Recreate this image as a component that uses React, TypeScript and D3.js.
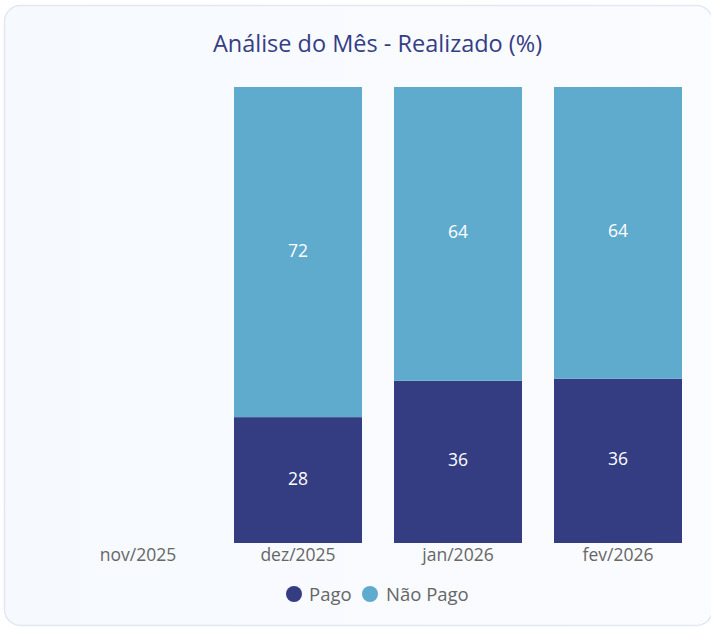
import React from "react";
import * as d3 from "d3";

const categories = ["nov/2025", "dez/2025", "jan/2026", "fev/2026"];
const pago: (number | null)[] = [null, 27.6, 35.6, 36.0];
const naoPago: (number | null)[] = [null, 72.4, 64.4, 64.0];
const seriesNames = ["Pago", "Não Pago"];
const colors = ["#343d82", "#5eabcd"];
const title = "Análise do Mês - Realizado (%)";

const W = 711;
const H = 628;
const FONT = "'Open Sans', 'Noto Sans', sans-serif";

export default function App() {
  if (typeof document !== "undefined") document.body.style.margin = "0";
  const x = d3.scaleBand<string>().domain(categories).range([58, 698]).paddingInner(0.2).paddingOuter(0.1);
  const y = d3.scaleLinear().domain([0, 100]).range([543, 87]);

  const rows = categories.map((c, i) => ({ cat: c, Pago: pago[i] ?? 0, "Não Pago": naoPago[i] ?? 0, has: pago[i] != null }));
  const stack = d3.stack<any>().keys(seriesNames)(rows);

  return (
    <svg width={W} height={H} style={{ display: "block" }}>
      <defs>
        <linearGradient id="bg" x1="0" x2="1" y1="0" y2="0">
          <stop offset="0" stopColor="#f6f9fe" />
          <stop offset="1" stopColor="#fafcff" />
        </linearGradient>
      </defs>
      <rect width={W} height={H} fill="#ffffff" />
      <rect x={4.5} y={5.5} width={708} height={620} rx={16} fill="url(#bg)" stroke="#e2e8f3" strokeWidth={1.5} />
      <text x={377.5} y={52} textAnchor="middle" fontFamily={FONT} fontSize={23.5} fill="#353d85">
        {title}
      </text>
      {stack.map((s, si) => (
        <g key={s.key}>
          {s.map((d, i) =>
            rows[i].has ? (
              <g key={i}>
                <rect x={x(categories[i])} y={y(d[1])} width={x.bandwidth()} height={y(d[0]) - y(d[1])} fill={colors[si]} />
                <text
                  x={(x(categories[i]) as number) + x.bandwidth() / 2}
                  y={(y(d[0]) + y(d[1])) / 2 + 4.5}
                  textAnchor="middle"
                  fontFamily={FONT}
                  fontSize={17.5}
                  fill="#ffffff"
                >
                  {Math.round(d[1] - d[0])}
                </text>
              </g>
            ) : null
          )}
        </g>
      ))}
      {categories.map((c) => (
        <text key={c} x={(x(c) as number) + x.bandwidth() / 2} y={561} textAnchor="middle" fontFamily={FONT} fontSize={17.5} fill="#666666">
          {c}
        </text>
      ))}
      <g>
        <circle cx={294} cy={594} r={8} fill={colors[0]} />
        <text x={309} y={601} fontFamily={FONT} fontSize={18.5} fill="#666666">{seriesNames[0]}</text>
        <circle cx={370} cy={594} r={8} fill={colors[1]} />
        <text x={386} y={601} fontFamily={FONT} fontSize={18.5} fill="#666666">{seriesNames[1]}</text>
      </g>
    </svg>
  );
}
